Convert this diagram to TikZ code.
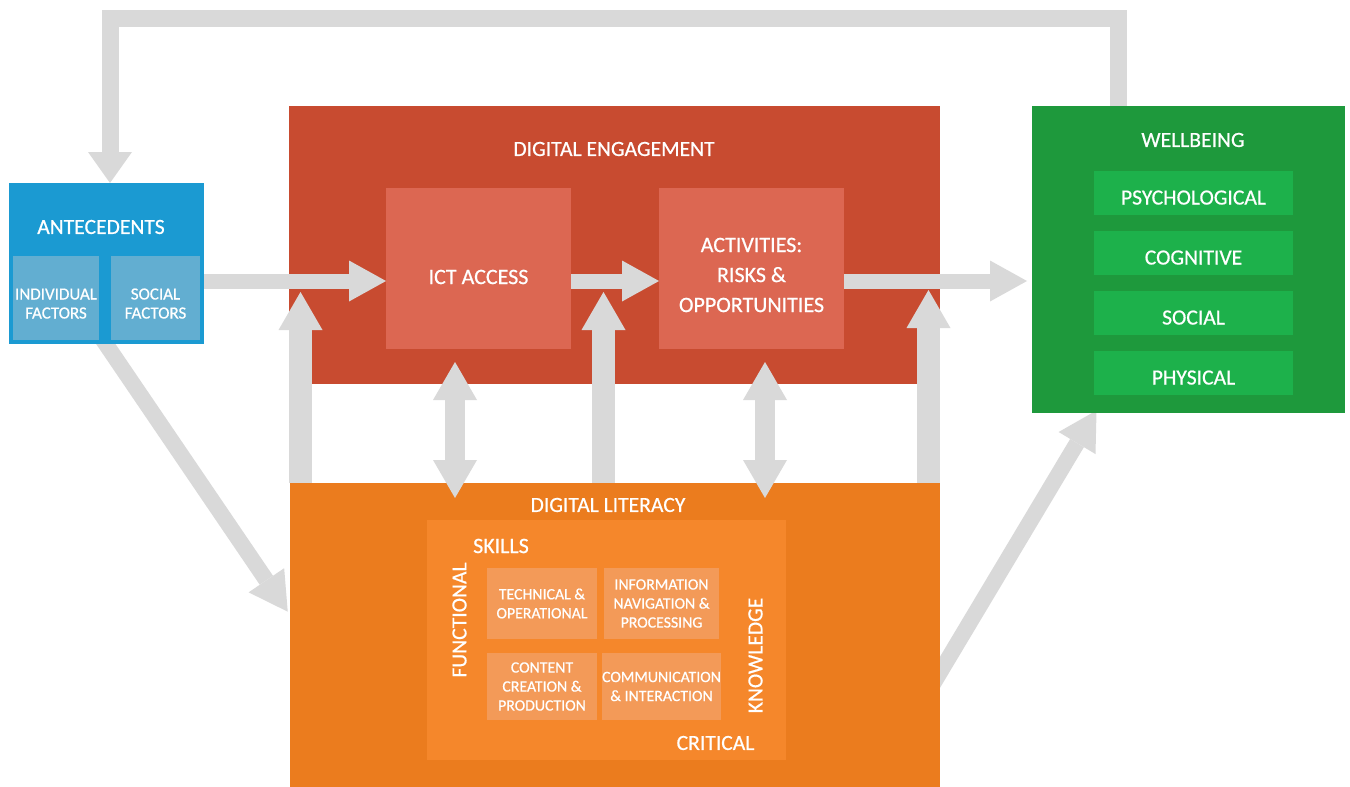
\documentclass[tikz,border=0pt]{standalone}
\usepackage{fontspec}
\setmainfont{Carlito}[FakeBold=0.6]
\usetikzlibrary{arrows.meta,positioning}
\definecolor{antBlue}{HTML}{1B9AD2}
\definecolor{antLight}{HTML}{62AED1}
\definecolor{engRed}{HTML}{C84B30}
\definecolor{engLight}{HTML}{DC6752}
\definecolor{wbGreen}{HTML}{1E993C}
\definecolor{wbLight}{HTML}{1DB14B}
\definecolor{litOrange}{HTML}{EB7C1E}
\definecolor{litPanel}{HTML}{F5872B}
\definecolor{litLight}{HTML}{F39A58}
\definecolor{flowGrey}{HTML}{D9D9D9}
\pgfdeclarelayer{back}
\pgfdeclarelayer{flows}
\pgfsetlayers{back,flows,main}

\begin{document}
\begin{tikzpicture}[x=0.5pt,y=-0.5pt,
 block/.style={inner sep=0pt,outer sep=0pt},
 boxtitle/.style={text=white,inner sep=0pt,align=center,font=\fontsize{10.8}{13}\selectfont},
 part/.style={block,fill=antLight,text=white,align=center,text height=20.5pt,text depth=0pt,font=\fontsize{8.5}{9.5}\selectfont},
 skill/.style={block,fill=litLight,text=white,align=center,font=\fontsize{7.9}{9.5}\selectfont},
 facet/.style={block,fill=wbLight,minimum width=99.5pt,minimum height=22pt,text height=11.5pt,text depth=0pt,text=white,font=\fontsize{10.8}{13}\selectfont},
 flow/.style={draw=flowGrey,line width=7.5pt,-{Triangle[length=18.5pt,width=20.5pt,line width=0pt]}},
 lift/.style={draw=flowGrey,line width=11.5pt,-{Triangle[length=19pt,width=22pt,line width=0pt]}},
 twoway/.style={draw=flowGrey,line width=10pt,{Triangle[length=19pt,width=22pt,line width=0pt]}-{Triangle[length=19pt,width=22pt,line width=0pt]}},
 slant/.style={draw=flowGrey,line width=8pt,-{Triangle[length=19pt,width=21.5pt,line width=0pt]}},
 loopback/.style={draw=flowGrey,line width=8.5pt,line join=miter,-{Triangle[length=15.5pt,width=22pt,line width=0pt]}}
]
\useasboundingbox (0,0) rectangle (1350,787);

% where the grey connectors run
\coordinate (row) at (0,281);
\coordinate (loopL) at (110,18);
\coordinate (loopR) at (1118,18);
\coordinate (upA) at (300.5,292);
\coordinate (upB) at (603.5,292);
\coordinate (upC) at (928.5,290);
\coordinate (ictLow) at (455,362);
\coordinate (ictLit) at (455,498);
\coordinate (actLow) at (765,362);
\coordinate (actLit) at (765,498);
\coordinate (antOut) at (99,334);
\coordinate (litIn) at (0,615);
\coordinate (litOut) at (930,689);
\coordinate (wbIn) at (1095,0);

% digital engagement
\begin{pgfonlayer}{back}
\node[block,fill=engRed,minimum width=325.5pt,minimum height=139pt] (eng) at (614.5,245) {};
\end{pgfonlayer}
\node[boxtitle] (engT) at (614,149) {DIGITAL ENGAGEMENT};
\node[block,fill=engLight,minimum width=92.5pt,minimum height=80.5pt] (ict) at (478.5,268.5) {};
\node[block,fill=engLight,minimum width=92.5pt,minimum height=80.5pt] (act) at (751.5,268.5) {};
\node[boxtitle,font=\fontsize{11}{15}\selectfont] (ictT) at (478.5,277) {ICT ACCESS};
\node[boxtitle,font=\fontsize{11}{15}\selectfont] (actT) at (751.5,275) {ACTIVITIES:\\RISKS \&\\OPPORTUNITIES};

% antecedents
\node[block,fill=antBlue,minimum width=97.5pt,minimum height=80.5pt] (ant) at (106.5,263.5) {};
\node[boxtitle] (antT) at (101,227) {ANTECEDENTS};
\node[part,minimum width=43pt,minimum height=42pt] (indiv) at (56,298) {INDIVIDUAL\\FACTORS};
\node[part,minimum width=44.5pt,minimum height=42pt,right=6pt of indiv] (soc) {SOCIAL\\FACTORS};

% wellbeing
\node[block,fill=wbGreen,minimum width=156.5pt,minimum height=153.5pt] (wb) at (1188.5,259.5) {};
\node[boxtitle] (wbT) at (1193,140) {WELLBEING};
\node[facet] (psy) at (1193.5,193) {PSYCHOLOGICAL};
\node[facet,below=8pt of psy] (cog) {COGNITIVE};
\node[facet,below=8pt of cog] (socw) {SOCIAL};
\node[facet,below=8pt of socw] (phy) {PHYSICAL};

% digital literacy
\node[block,fill=litOrange,minimum width=325pt,minimum height=155pt] (dl) at (615,638) {};
\node[boxtitle] (dlT) at (608,505) {DIGITAL LITERACY};
\node[block,fill=litPanel,minimum width=179.5pt,minimum height=120pt] (panel) at (606.5,640) {};
\node[skill,minimum width=55pt,minimum height=35.5pt] (tech) at (542,603.5) {TECHNICAL \&\\OPERATIONAL};
\node[skill,minimum width=57.5pt,minimum height=35.5pt,right=3.5pt of tech] (info) {INFORMATION\\NAVIGATION \&\\PROCESSING};
\node[skill,minimum width=55pt,minimum height=33.5pt,below=7pt of tech] (make) {CONTENT\\CREATION \&\\PRODUCTION};
\node[skill,minimum width=57.5pt,minimum height=33.5pt,below=7pt of info] (talk) {COMMUNICATION\\\& INTERACTION};
\node[boxtitle,font=\fontsize{11}{13}\selectfont] (skills) at (501,546) {SKILLS};
\node[boxtitle,rotate=90] (func) at (459.5,620) {FUNCTIONAL};
\node[boxtitle,rotate=90] (know) at (755.5,655.5) {KNOWLEDGE};
\node[boxtitle] (crit) at (715.5,743) {CRITICAL};

% connectors that pass under the boxes
\begin{pgfonlayer}{flows}
\draw[loopback] (wb.north -| loopR) -- (loopR) -- (loopL) -- (ant.north -| loopL);
\draw[lift] (dl.north -| upA) -- (upA);
\draw[lift] (dl.north -| upB) -- (upB);
\draw[lift] (dl.north -| upC) -- (upC);
\draw[slant,shorten >=2pt] (antOut) -- (dl.west |- litIn);
\draw[slant,shorten >=-1.5pt] (litOut) -- (wb.south -| wbIn);
\end{pgfonlayer}

% main row and the two-way links
\draw[flow] (ant.east |- row) -- (ict.west |- row);
\draw[flow] (ict.east |- row) -- (act.west |- row);
\draw[flow,shorten >=2.5pt] (act.east |- row) -- (wb.west |- row);
\draw[twoway] (ictLow) -- (ictLit);
\draw[twoway] (actLow) -- (actLit);
\end{tikzpicture}
\end{document}
